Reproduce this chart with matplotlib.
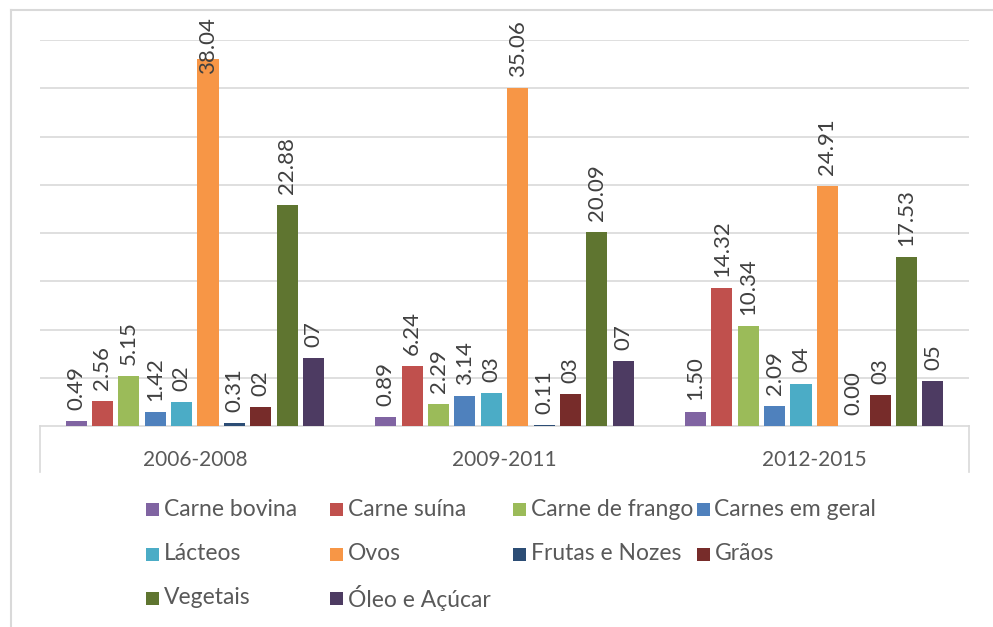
import numpy as np
import matplotlib
matplotlib.use("Agg")
import matplotlib.pyplot as plt
from matplotlib.patches import Rectangle
from matplotlib.lines import Line2D

periods = ["2006-2008", "2009-2011", "2012-2015"]
groups = ["Carne bovina", "Carne suína", "Carne de frango", "Carnes em geral",
          "Lácteos", "Ovos", "Frutas e Nozes", "Grãos", "Vegetais", "Óleo e Açúcar"]
colors = ["#8064A2", "#C0504D", "#9BBB59", "#4F81BD", "#4BACC6",
          "#F79646", "#2C4D75", "#772C2A", "#5F7530", "#4D3B62"]

# values per group for each period
carne_bovina = [0.49, 0.89, 1.50]
carne_suina = [2.56, 6.24, 14.32]
carne_frango = [5.15, 2.29, 10.34]
carnes_geral = [1.42, 3.14, 2.09]
lacteos = [2.50, 3.40, 4.40]
ovos = [38.04, 35.06, 24.91]
frutas = [0.31, 0.11, 0.00]
graos = [2.00, 3.35, 3.20]
vegetais = [22.88, 20.09, 17.53]
oleo = [7.00, 6.70, 4.70]

# labels as they appear on the chart
lab_bovina = ["0.49", "0.89", "1.50"]
lab_suina = ["2.56", "6.24", "14.32"]
lab_frango = ["5.15", "2.29", "10.34"]
lab_geral = ["1.42", "3.14", "2.09"]
lab_lacteos = ["02", "03", "04"]
lab_ovos = ["38.04", "35.06", "24.91"]
lab_frutas = ["0.31", "0.11", "0.00"]
lab_graos = ["02", "03", "03"]
lab_vegetais = ["22.88", "20.09", "17.53"]
lab_oleo = ["07", "07", "05"]

series = [carne_bovina, carne_suina, carne_frango, carnes_geral, lacteos,
          ovos, frutas, graos, vegetais, oleo]
labels = [lab_bovina, lab_suina, lab_frango, lab_geral, lab_lacteos,
          lab_ovos, lab_frutas, lab_graos, lab_vegetais, lab_oleo]

plt.rcParams["font.family"] = ["Lato", "DejaVu Sans"]
txt = "#595959"
grid = "#D9D9D9"

W, H = 993, 627
fig = plt.figure(figsize=(W / 100, H / 100), dpi=100)
ax = fig.add_axes([40 / W, 1 - 426 / H, 929 / W, 386 / H])

x = np.arange(len(periods))
slot = 0.0852
bw = 0.068
for i, (vals, labs) in enumerate(zip(series, labels)):
    pos = x + (i - 4.5) * slot
    ax.bar(pos, vals, width=bw, color=colors[i], zorder=3)
    for px, v, lb in zip(pos, vals, labs):
        # labels that would leave the chart are pulled down, as Excel does
        ax.annotate(lb, (px, min(v, 35.3)), xytext=(0, 8), textcoords="offset points",
                    rotation=90, ha="center", va="bottom", fontsize=16, color="#404040",
                    zorder=4)

ax.set_xlim(-0.5, 2.5)
ax.set_ylim(0, 40)
ax.set_yticks(np.arange(5, 41, 5))
ax.yaxis.grid(True, color=grid, linewidth=1.2, zorder=0)
ax.tick_params(left=False, labelleft=False, bottom=False, labelbottom=False)
for s in ["top", "right", "left"]:
    ax.spines[s].set_visible(False)
ax.spines["bottom"].set_color(grid)
ax.spines["bottom"].set_linewidth(1.2)

for xi, p in zip(x, periods):
    ax.text(xi, -0.089, p, transform=ax.get_xaxis_transform(), ha="center", va="center",
            fontsize=15, color=txt)

# category box sides
for xp in (40, 969):
    fig.add_artist(Line2D([xp / W, xp / W], [1 - 426 / H, 1 - 472 / H], color=grid, lw=1.2))

# outer chart border
fig.add_artist(Line2D([11 / W, 11 / W], [0, 1 - 10 / H], color=grid, lw=1.5))
fig.add_artist(Line2D([11 / W, 1], [1 - 10 / H, 1 - 10 / H], color=grid, lw=1.5))

# legend
col_x = [146, 329.5, 513, 696.5]
row_y = [509, 554, 598]
ms = 13
for i, (g, c) in enumerate(zip(groups, colors)):
    lx = col_x[i % 4]
    ly = row_y[i // 4]
    fig.add_artist(Rectangle((lx / W, 1 - (ly + ms / 2) / H), ms / W, ms / H,
                             facecolor=c, edgecolor="none"))
    fig.text((lx + ms + 5) / W, 1 - ly / H, g, ha="left", va="center", fontsize=16.5, color=txt)

fig.savefig("out.png", dpi=100)
